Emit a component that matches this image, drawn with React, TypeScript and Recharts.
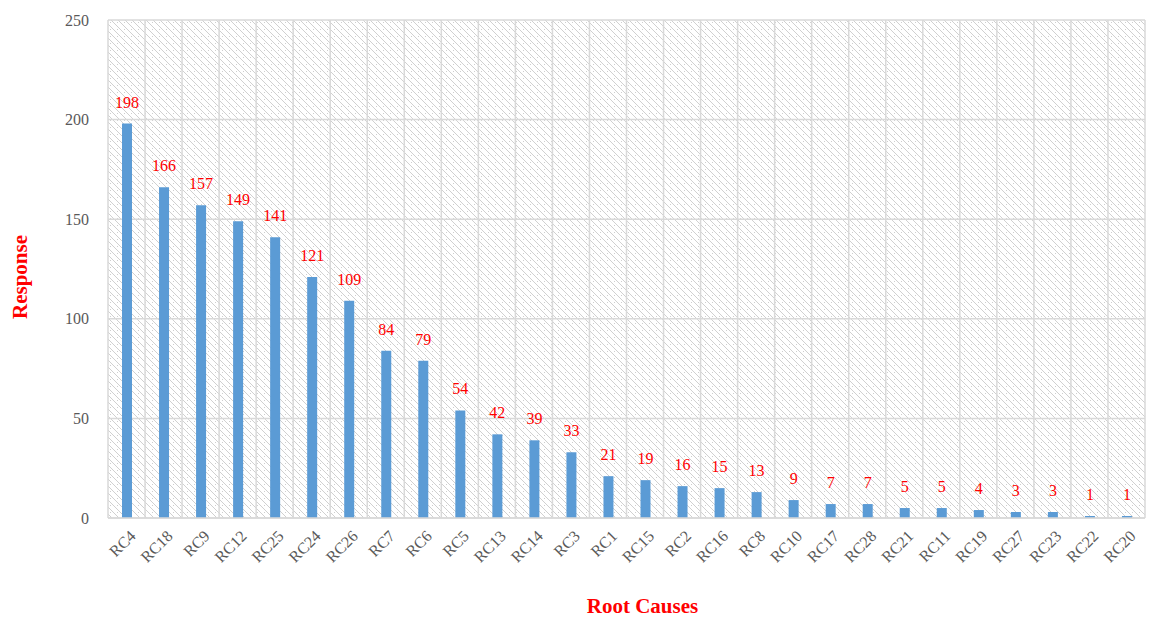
import { BarChart, Bar, XAxis, YAxis, CartesianGrid, LabelList } from "recharts"

const causes = [
  "RC4", "RC18", "RC9", "RC12", "RC25", "RC24", "RC26", "RC7", "RC6", "RC5",
  "RC13", "RC14", "RC3", "RC1", "RC15", "RC2", "RC16", "RC8", "RC10", "RC17",
  "RC28", "RC21", "RC11", "RC19", "RC27", "RC23", "RC22", "RC20",
]

const responses = [
  198, 166, 157, 149, 141, 121, 109, 84, 79, 54,
  42, 39, 33, 21, 19, 16, 15, 13, 9, 7,
  7, 5, 5, 4, 3, 3, 1, 1,
]

const yTicks = [0, 50, 100, 150, 200, 250]

const data = causes.map((c, i) => ({ cause: c, value: responses[i] }))

const font = "'Liberation Serif', 'Times New Roman', serif"

function RotatedTick(props: any) {
  const { x, y, payload } = props
  return (
    <g transform={`translate(${x + 3},${y + 4})`}>
      <text
        transform="rotate(-45)"
        textAnchor="end"
        fontSize={16}
        fill="#595959"
        fontFamily={font}
        dy={10}
      >
        {payload.value}
      </text>
    </g>
  )
}

export default function App() {
  return (
    <div style={{ position: "absolute", left: 0, top: 0, width: 1150, height: 617, background: "#fff" }}>
      <BarChart
        width={1150}
        height={617}
        data={data}
        margin={{ top: 20, right: 5, bottom: 0, left: 0 }}
        barCategoryGap={0}
      >
        <defs>
          <pattern id="hatch" width="7" height="7" patternUnits="userSpaceOnUse">
            <rect width="7" height="7" fill="#ffffff" />
            <path d="M0,0 L7,7 M-2,5 L2,9 M5,-2 L9,2" stroke="#d0d0d0" strokeWidth={1} />
            <rect x="5" y="1" width="1" height="1" fill="#cfcfcf" />
          </pattern>
        </defs>
        <CartesianGrid
          fill="url(#hatch)"
          fillOpacity={1}
          stroke="#d9d9d9"
          strokeWidth={1.5}
          verticalCoordinatesGenerator={({ offset }: any) =>
            Array.from({ length: causes.length + 1 }, (_, i) => offset.left + (i * offset.width) / causes.length)
          }
        />
        <XAxis
          dataKey="cause"
          interval={0}
          tick={<RotatedTick />}
          tickLine={false}
          axisLine={{ stroke: "#d9d9d9", strokeWidth: 1.5 }}
          height={99}
          label={{
            value: "Root Causes",
            position: "insideBottom",
            offset: 4,
            dx: 16,
            fill: "#ff0000",
            fontSize: 21,
            fontWeight: "bold",
            fontFamily: font,
          }}
        />
        <YAxis
          domain={[0, 250]}
          ticks={yTicks}
          tickLine={false}
          axisLine={false}
          width={108}
          tick={{ fill: "#595959", fontSize: 16, fontFamily: font }}
          tickMargin={13}
          label={{
            value: "Response",
            angle: -90,
            position: "insideLeft",
            offset: 20,
            dy: 50,
            fill: "#ff0000",
            fontSize: 21,
            fontWeight: "bold",
            fontFamily: font,
          }}
        />
        <Bar dataKey="value" fill="#5b9bd5" barSize={10} isAnimationActive={false}>
          <LabelList
            dataKey="value"
            position="top"
            offset={16}
            fill="#ff0000"
            fontSize={16}
            fontFamily={font}
          />
        </Bar>
      </BarChart>
    </div>
  )
}
